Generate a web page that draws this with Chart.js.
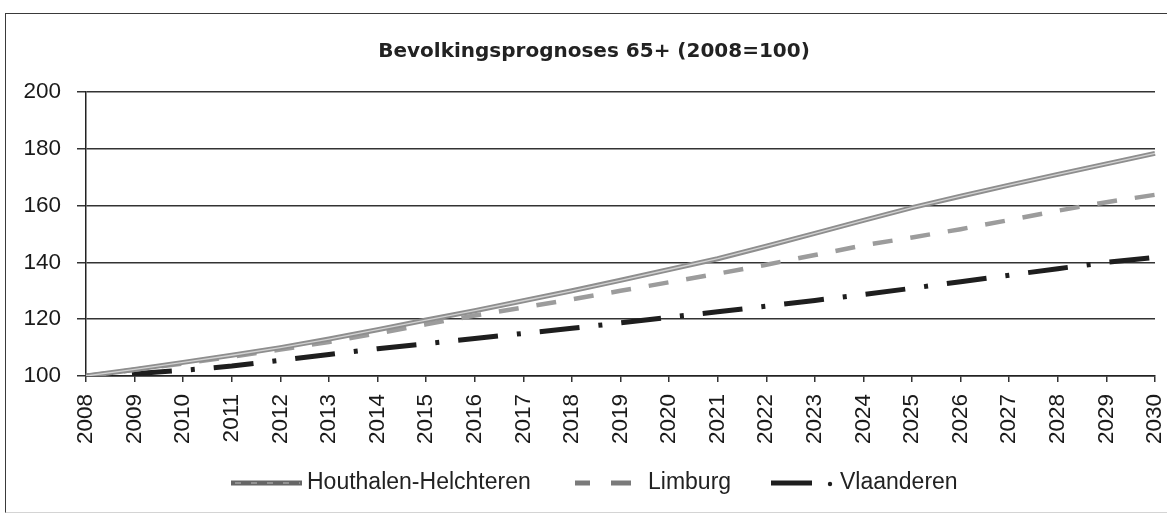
<!DOCTYPE html>
<html>
<head>
<meta charset="utf-8">
<script src="https://cdn.jsdelivr.net/npm/chart.js@4"></script>
<style>
html,body{margin:0;padding:0;background:#fff;}
#wrap{position:relative;width:1167px;height:515px;overflow:hidden;background:#fff;}
#frame{position:absolute;left:5px;top:13px;width:1200px;height:500px;border-left:1.5px solid #3a3a3a;border-top:1.5px solid #3a3a3a;border-bottom:1px solid #d4d4d4;box-sizing:border-box;}
canvas{position:absolute;left:0;top:0;}
</style>
</head>
<body>
<div id="wrap"><div id="frame"></div><canvas id="c" width="1167" height="515"></canvas></div>
<script>
const chartTitle = 'Bevolkingsprognoses 65+ (2008=100)';
const years = ['2008','2009','2010','2011','2012','2013','2014','2015','2016','2017','2018','2019','2020','2021','2022','2023','2024','2025','2026','2027','2028','2029','2030'];
const seriesNames = ['Houthalen-Helchteren','Limburg','Vlaanderen'];
const houthalen = [100,102.3,104.8,107.3,110,113,116.3,119.7,123,126.5,130,133.7,137.5,141.3,145.7,150.2,154.8,159.3,163.3,167.2,171,174.7,178.4];
const limburg = [100,102.2,104.4,106.8,109.3,112,115,118.2,121.3,124.1,127,130,133,136,139.2,142.6,146,148.8,151.7,154.9,158.2,161.2,163.8];
const vlaanderen = [100,100.8,102,103.5,105.5,107.6,109.6,111.4,113.2,115,116.8,118.7,120.7,122.6,124.6,126.6,128.7,130.9,133.2,135.5,137.8,140,141.8];
const yTicks = [100,120,140,160,180,200];

const TICK_FONT = {family:'"Liberation Sans", Arial, sans-serif', size:22.5};

const titlePlugin = {
  id:'customTitle',
  afterDraw(chart){
    const ctx = chart.ctx;
    ctx.save();
    ctx.font = 'bold 20px "DejaVu Sans", Verdana, sans-serif';
    ctx.fillStyle = '#222';
    ctx.textAlign = 'center';
    ctx.textBaseline = 'middle';
    ctx.fillText(chartTitle, 594, 52);
    ctx.restore();
  }
};

const legendPlugin = {
  id:'customLegend',
  afterDraw(chart){
    const ctx = chart.ctx;
    const y = 483;
    ctx.save();
    ctx.lineCap = 'butt';
    ctx.setLineDash([]);
    ctx.strokeStyle = '#666'; ctx.lineWidth = 5;
    ctx.beginPath(); ctx.moveTo(231,y); ctx.lineTo(302,y); ctx.stroke();
    ctx.strokeStyle = '#bdbdbd'; ctx.lineWidth = 1.2;
    ctx.setLineDash([6,10]);
    ctx.beginPath(); ctx.moveTo(235,y); ctx.lineTo(300,y); ctx.stroke();
    ctx.setLineDash([]);
    ctx.strokeStyle = '#7a7a7a'; ctx.lineWidth = 5;
    ctx.beginPath(); ctx.moveTo(575,y); ctx.lineTo(590,y); ctx.moveTo(611,y); ctx.lineTo(631,y); ctx.stroke();
    ctx.strokeStyle = '#1e1e1e'; ctx.lineWidth = 5;
    ctx.beginPath(); ctx.moveTo(771,y); ctx.lineTo(812,y); ctx.stroke();
    ctx.fillStyle = '#1e1e1e';
    ctx.beginPath(); ctx.arc(830,y+1,2.2,0,Math.PI*2); ctx.fill();
    ctx.font = '23px "Liberation Sans", Arial, sans-serif';
    ctx.fillStyle = '#222';
    ctx.textAlign = 'left';
    ctx.textBaseline = 'middle';
    ctx.fillText(seriesNames[0], 307, y);
    ctx.fillText(seriesNames[1], 648, y);
    ctx.fillText(seriesNames[2], 840, y);
    ctx.restore();
  }
};

new Chart(document.getElementById('c'), {
  type:'line',
  data:{
    labels: years,
    datasets:[
      {label:seriesNames[0]+' (inner)', data:houthalen, borderColor:'#d2d2d2', borderWidth:1.3, pointRadius:0, tension:0, order:0},
      {label:seriesNames[0], data:houthalen, borderColor:'#8e8e8e', borderWidth:5, pointRadius:0, tension:0, order:1},
      {label:seriesNames[1], data:limburg, borderColor:'#9c9c9c', borderWidth:4.5, borderDash:[20,18], pointRadius:0, tension:0, order:2},
      {label:seriesNames[2], data:vlaanderen, borderColor:'#1e1e1e', borderWidth:5, borderDash:[40,19,4,19], borderDashOffset:36, pointRadius:0, tension:0, order:3}
    ]
  },
  options:{
    responsive:false,
    devicePixelRatio:1,
    animation:false,
    layout:{padding:{top:92,right:12,left:0,bottom:0}},
    plugins:{legend:{display:false}, title:{display:false}, tooltip:{enabled:false}},
    scales:{
      x:{
        offset:false,
        afterFit(s){ s.height = 515-376; s.paddingLeft = 0; s.paddingRight = 0; },
        grid:{drawOnChartArea:false, drawTicks:true, tickLength:6, color:'#333', lineWidth:1.5},
        border:{display:true, color:'#222', width:1.5},
        ticks:{font:TICK_FONT, color:'#1a1a1a', minRotation:90, maxRotation:90, padding:12, autoSkip:false}
      },
      y:{
        min:100, max:200,
        afterFit(s){ s.width = 86; s.paddingTop = 0; s.paddingBottom = 0; },
        afterBuildTicks(s){ s.ticks = yTicks.map(v=>({value:v})); },
        grid:{color:'#333', lineWidth:1.5, tickLength:9, drawTicks:true},
        border:{display:true, color:'#222', width:1.5},
        ticks:{font:TICK_FONT, color:'#1a1a1a', padding:16}
      }
    }
  },
  plugins:[titlePlugin, legendPlugin]
});
</script>
</body>
</html>
